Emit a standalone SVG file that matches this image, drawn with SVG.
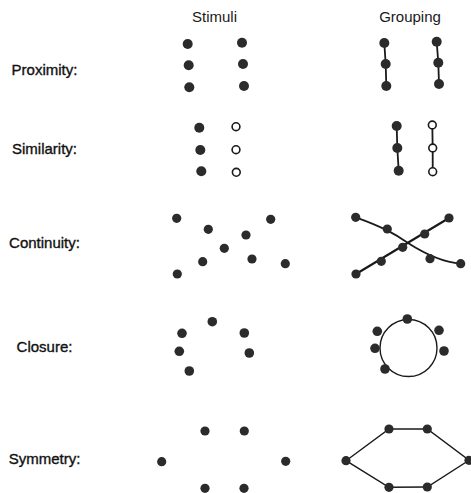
<svg xmlns="http://www.w3.org/2000/svg" width="471" height="493" viewBox="0 0 471 493">
<style>
.hdr{font-family:"Liberation Sans",Arial,sans-serif;font-size:15px;fill:#1a1a1a;text-anchor:middle}
.lbl{font-family:"Liberation Sans",Arial,sans-serif;font-size:15px;fill:#111;stroke:#111;stroke-width:0.35;text-anchor:middle}
.d{fill:#2b2b2b}
.o{fill:#fff;stroke:#1a1a1a;stroke-width:1.6}
.ln{fill:none;stroke:#1a1a1a;stroke-width:1.8;stroke-linecap:round;stroke-linejoin:round}
.th{fill:none;stroke:#1a1a1a;stroke-width:1.4}
</style>
<rect width="471" height="493" fill="#fff"/>
<g id="headers">
<text class="hdr" x="214.5" y="22">Stimuli</text>
<text class="hdr" x="410" y="22">Grouping</text>
</g>
<g id="labels">
<text class="lbl" x="44.5" y="75">Proximity:</text>
<text class="lbl" x="44.5" y="154">Similarity:</text>
<text class="lbl" x="44.5" y="247.5">Continuity:</text>
<text class="lbl" x="44.5" y="352.3">Closure:</text>
<text class="lbl" x="44.5" y="464.3">Symmetry:</text>
</g>
<g id="connectors">
<polyline class="ln" points="384.3,43 385.7,64 386.3,86"/>
<polyline class="ln" points="436.7,41.7 438.3,62.7 439,84"/>
<polyline class="ln" points="396.7,126 397.3,148 398.7,170.7"/>
<polyline class="ln" points="432.3,125 432.7,148 432.7,171.7"/>
<path class="ln" d="M355.7,217.3 C383,227 395,234 408,243 C422,252 440,262 460.7,263.7"/>
<line class="ln" x1="356" y1="274" x2="449" y2="218" style="stroke-width:2.2"/>
<circle class="th" cx="408.5" cy="348" r="28.5"/>
<polygon class="th" points="346,460.7 389,429 427.3,429 469,460.3 427.3,487 389,487.3"/>
</g>
<g id="proximity-stimuli">
<circle class="d" cx="187.7" cy="44" r="5"/>
<circle class="d" cx="188.7" cy="65.3" r="5"/>
<circle class="d" cx="189.3" cy="87.3" r="5"/>
<circle class="d" cx="242" cy="42.7" r="5"/>
<circle class="d" cx="243" cy="64" r="5"/>
<circle class="d" cx="244" cy="86" r="5"/>
</g>
<g id="proximity-grouping">
<circle class="d" cx="384.3" cy="43" r="5"/>
<circle class="d" cx="385.7" cy="64" r="5"/>
<circle class="d" cx="386.3" cy="86" r="5"/>
<circle class="d" cx="436.7" cy="41.7" r="5"/>
<circle class="d" cx="438.3" cy="62.7" r="5"/>
<circle class="d" cx="439" cy="84" r="5"/>
</g>
<g id="similarity-stimuli">
<circle class="d" cx="199.3" cy="127.7" r="5"/>
<circle class="d" cx="200.3" cy="150" r="5"/>
<circle class="d" cx="201.3" cy="171.3" r="5"/>
<circle class="o" cx="236" cy="126.7" r="3.9"/>
<circle class="o" cx="236" cy="149.7" r="3.9"/>
<circle class="o" cx="236.3" cy="172.3" r="3.9"/>
</g>
<g id="similarity-grouping">
<circle class="d" cx="396.7" cy="126" r="5"/>
<circle class="d" cx="397.3" cy="148" r="5"/>
<circle class="d" cx="398.7" cy="170.7" r="5"/>
<circle class="o" cx="432.3" cy="125" r="3.9"/>
<circle class="o" cx="432.7" cy="148" r="3.9"/>
<circle class="o" cx="432.7" cy="171.7" r="3.9"/>
</g>
<g id="continuity-stimuli">
<circle class="d" cx="176.7" cy="218.3" r="4.6"/>
<circle class="d" cx="208.3" cy="229.3" r="4.6"/>
<circle class="d" cx="246" cy="235" r="4.6"/>
<circle class="d" cx="224.3" cy="248.3" r="4.6"/>
<circle class="d" cx="202.7" cy="261.7" r="4.6"/>
<circle class="d" cx="177.3" cy="274" r="4.6"/>
<circle class="d" cx="270.7" cy="219.3" r="4.6"/>
<circle class="d" cx="252" cy="259" r="4.6"/>
<circle class="d" cx="285.3" cy="263.7" r="4.6"/>
</g>
<g id="continuity-grouping">
<circle class="d" cx="355.7" cy="217.3" r="4.6"/>
<circle class="d" cx="387.3" cy="229" r="4.6"/>
<circle class="d" cx="424.7" cy="234" r="4.6"/>
<circle class="d" cx="402.7" cy="247.3" r="4.6"/>
<circle class="d" cx="381.3" cy="261.3" r="4.6"/>
<circle class="d" cx="356" cy="274" r="4.6"/>
<circle class="d" cx="449" cy="218" r="4.6"/>
<circle class="d" cx="430" cy="258.7" r="4.6"/>
<circle class="d" cx="460.7" cy="263.7" r="4.6"/>
</g>
<g id="closure-stimuli">
<circle class="d" cx="212.3" cy="321.7" r="4.8"/>
<circle class="d" cx="182" cy="333.3" r="4.8"/>
<circle class="d" cx="244.3" cy="333" r="4.8"/>
<circle class="d" cx="179.3" cy="351.3" r="4.8"/>
<circle class="d" cx="249.3" cy="353" r="4.8"/>
<circle class="d" cx="189.3" cy="371" r="4.8"/>
</g>
<g id="closure-grouping">
<circle class="d" cx="407.3" cy="319" r="4.8"/>
<circle class="d" cx="377.3" cy="331.3" r="4.8"/>
<circle class="d" cx="439" cy="330.3" r="4.8"/>
<circle class="d" cx="375" cy="348.3" r="4.8"/>
<circle class="d" cx="444" cy="351" r="4.8"/>
<circle class="d" cx="385" cy="369" r="4.8"/>
</g>
<g id="symmetry-stimuli">
<circle class="d" cx="205" cy="431" r="4.6"/>
<circle class="d" cx="244.3" cy="431" r="4.6"/>
<circle class="d" cx="161.7" cy="461.7" r="4.6"/>
<circle class="d" cx="285.7" cy="461.3" r="4.6"/>
<circle class="d" cx="205" cy="488.3" r="4.6"/>
<circle class="d" cx="244" cy="488.3" r="4.6"/>
</g>
<g id="symmetry-grouping">
<circle class="d" cx="389" cy="429" r="4.6"/>
<circle class="d" cx="427.3" cy="429" r="4.6"/>
<circle class="d" cx="346" cy="460.7" r="4.6"/>
<circle class="d" cx="469" cy="460.3" r="4.6"/>
<circle class="d" cx="389" cy="487.3" r="4.6"/>
<circle class="d" cx="427.3" cy="487" r="4.6"/>
</g>
</svg>
